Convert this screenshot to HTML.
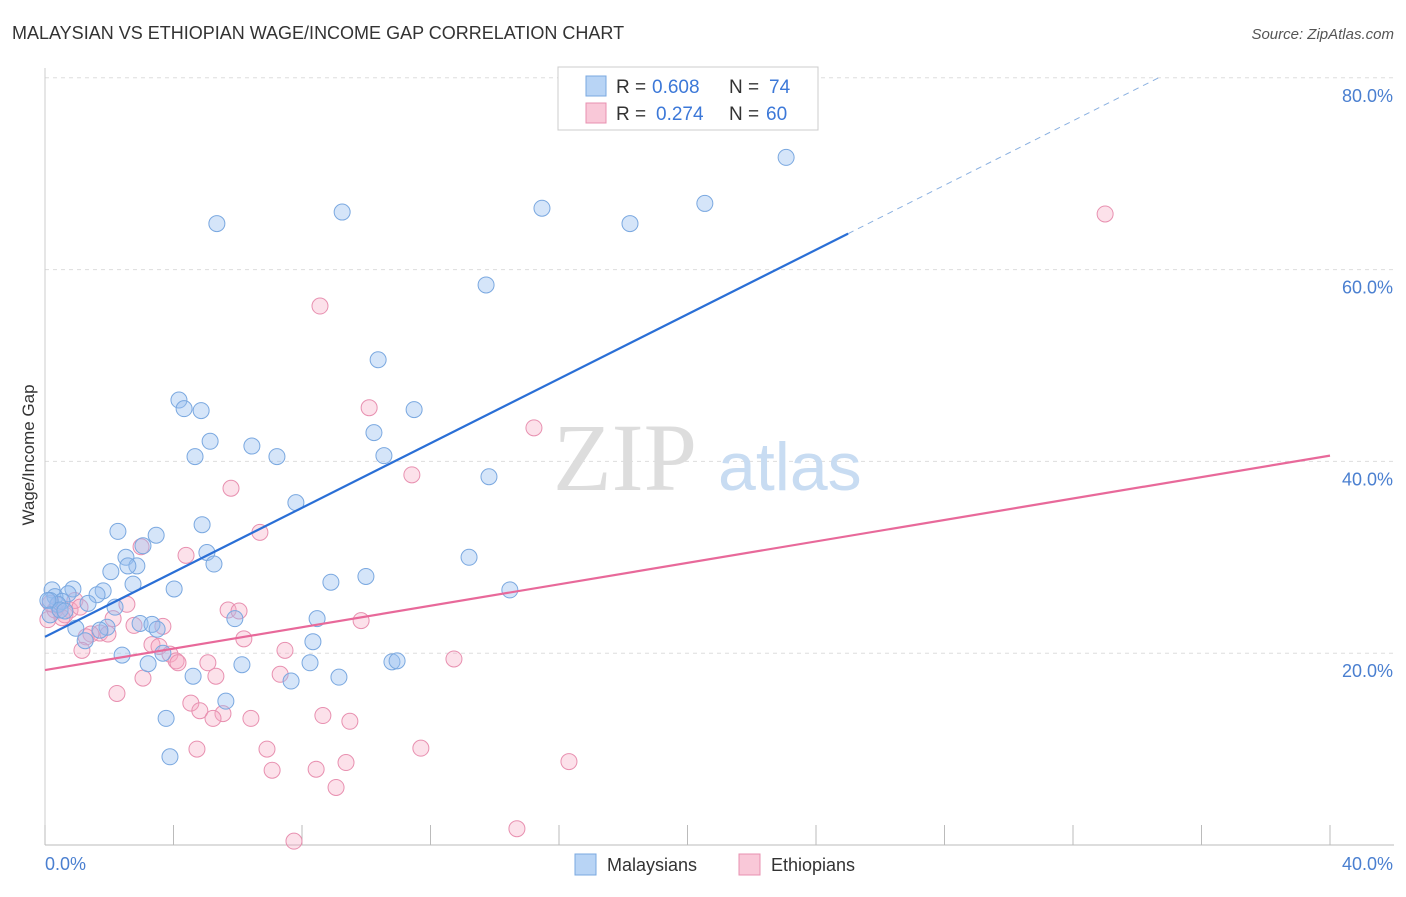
<!DOCTYPE html>
<html><head><meta charset="utf-8">
<style>
body{margin:0;background:#fff;font-family:"Liberation Sans",sans-serif;}
svg text{font-family:"Liberation Sans",sans-serif;}
</style></head>
<body>
<svg width="1406" height="892" xmlns="http://www.w3.org/2000/svg">
<text x="12" y="39" font-size="18" fill="#333">MALAYSIAN VS ETHIOPIAN WAGE/INCOME GAP CORRELATION CHART</text>
<text x="1394" y="39" font-size="15" fill="#555" text-anchor="end" font-style="italic">Source: ZipAtlas.com</text>
<g id="grid"></g>
<text x="553" y="490" font-size="96" fill="#ddd" style="font-family:'Liberation Serif',serif">ZIP</text>
<text x="718" y="490" font-size="68" fill="#c8dcf2">atlas</text>
<g id="pts"></g>
<g id="lines"></g>
<text x="34" y="455" font-size="17" fill="#333" text-anchor="middle" transform="rotate(-90 34 455)">Wage/Income Gap</text>
<g>
<rect x="558" y="67" width="260" height="63" fill="#fff" stroke="#ccc"/>
<rect x="586" y="76" width="20" height="20" fill="#b8d4f5" stroke="#7aa8e0"/>
<rect x="586" y="103" width="20" height="20" fill="#f9c8d8" stroke="#e890b0"/>
<text x="616" y="93" font-size="19" fill="#333">R =</text>
<text x="652" y="93" font-size="19" fill="#3c78d8">0.608</text>
<text x="729" y="93" font-size="19" fill="#333">N =</text>
<text x="769" y="93" font-size="19" fill="#3c78d8">74</text>
<text x="616" y="120" font-size="19" fill="#333">R =</text>
<text x="656" y="120" font-size="19" fill="#3c78d8">0.274</text>
<text x="729" y="120" font-size="19" fill="#333">N =</text>
<text x="766" y="120" font-size="19" fill="#3c78d8">60</text>
</g>
<g>
<rect x="575" y="854" width="21" height="21" fill="#b8d4f5" stroke="#7aa8e0"/>
<text x="607" y="871" font-size="18" fill="#333">Malaysians</text>
<rect x="739" y="854" width="21" height="21" fill="#f9c8d8" stroke="#e890b0"/>
<text x="771" y="871" font-size="18" fill="#333">Ethiopians</text>
</g>
</svg>
<script>
const malX=[23.07,20.54,15.47,18.21,9.25,5.35,13.73,10.37,11.49,4.17,4.33,4.86,10.24,5.14,6.44,4.67,7.22,10.55,13.82,7.81,4.89,2.27,3.46,3.05,5.04,5.26,13.2,2.52,2.86,2.58,2.05,9.99,8.90,2.74,4.02,14.47,0.22,0.87,1.81,0.72,1.62,0.31,0.53,1.34,2.18,0.40,0.16,5.91,8.47,2.96,3.33,3.49,1.93,0.96,1.71,8.34,1.25,3.67,2.40,3.21,6.13,8.25,10.80,10.96,4.61,7.66,9.15,5.63,3.77,3.89,0.09,0.16,0.47,0.62];
const malY=[71.7,66.9,66.4,64.8,66.0,64.8,58.4,50.6,45.4,46.4,45.5,45.3,43.0,42.1,41.6,40.5,40.5,40.6,38.4,35.7,33.4,32.7,32.3,31.2,30.5,29.3,30.0,30.0,29.1,29.1,28.5,28.0,27.4,27.2,26.7,26.6,26.6,26.7,26.5,26.2,26.1,25.9,25.4,25.2,24.8,25.1,25.5,23.6,23.6,23.1,23.0,22.5,22.7,22.6,22.4,21.2,21.3,20.0,19.8,18.9,18.8,19.0,19.1,19.2,17.6,17.1,17.5,15.0,13.2,9.2,25.5,24.0,24.5,24.4];
const ethX=[33.0,8.56,10.09,15.22,11.42,5.79,6.69,2.99,4.39,2.55,5.70,6.04,2.12,9.84,3.67,2.77,1.71,1.43,1.96,1.28,1.15,3.33,3.55,3.89,6.19,4.08,4.14,5.07,7.47,12.73,5.32,7.32,3.05,2.24,4.54,4.82,5.54,5.23,6.41,8.65,9.49,4.73,6.91,11.70,9.37,16.31,7.07,8.44,9.06,14.69,7.75,0.09,0.31,0.62,0.78,0.40,0.93,0.16,0.53,1.09];
const ethY=[65.8,56.2,45.6,43.5,38.6,37.2,32.6,31.1,30.2,25.1,24.5,24.4,23.6,23.4,22.8,22.9,22.1,22.0,22.0,21.7,20.3,20.9,20.7,19.9,21.5,19.2,19.0,19.0,20.3,19.4,17.6,17.8,17.4,15.8,14.8,14.0,13.7,13.2,13.2,13.5,12.9,10.0,10.0,10.1,8.6,8.7,7.8,7.9,6.0,1.7,0.4,23.5,24.5,24.0,24.5,25.0,25.5,25.2,23.7,24.8];
const yTicks=[20,40,60,80];
const xTicks=[0,4,8,12,16,20,24,28,32,36,40];
const X0=45,X1=1330,Y0=845,YS=9.59;
const sx=v=>X0+v*(X1-X0)/40, sy=v=>Y0-v*YS;
const NS="http://www.w3.org/2000/svg";
function mk(t,a,p){const e=document.createElementNS(NS,t);for(const k in a)e.setAttribute(k,a[k]);p.appendChild(e);return e;}
const g=document.getElementById('grid');
yTicks.forEach(v=>{const l=mk('line',{x1:X0,x2:1394,y1:sy(v),y2:sy(v),stroke:'#ddd','stroke-dasharray':'4,4'},g);


const t=mk('text',{x:1393,y:sy(v)+24,'font-size':18,fill:'#4a7fd0','text-anchor':'end'},g);t.textContent=v.toFixed(1)+'%';

});
const ax=mk('line',{x1:X0,x2:1394,y1:Y0,y2:Y0,stroke:'#bbb'},g);


const ay=mk('line',{x1:X0,x2:X0,y1:68,y2:Y0,stroke:'#ccc'},g);


xTicks.forEach(v=>{const l=mk('line',{x1:sx(v),x2:sx(v),y1:825,y2:Y0,stroke:'#bbb'},g);

});
[[0,'start',45],[40,'end',1393]].forEach(([v,a,x])=>{const t=mk('text',{x:x,y:870,'font-size':18,fill:'#4a7fd0','text-anchor':a},g);t.textContent=v.toFixed(1)+'%';

});
const P=document.getElementById('pts');
ethX.forEach((x,i)=>{const c=mk('circle',{cx:sx(x),cy:sy(ethY[i]),r:8,fill:'rgba(245,170,195,0.35)',stroke:'#e890b0','stroke-width':1},P);

});
malX.forEach((x,i)=>{const c=mk('circle',{cx:sx(x),cy:sy(malY[i]),r:8,fill:'rgba(150,190,240,0.4)',stroke:'#7aa8e0','stroke-width':1},P);

});
const L=document.getElementById('lines');
function fit(xs,ys){const n=xs.length;let mx=0,my=0;xs.forEach((x,i)=>{mx+=x;my+=ys[i]});mx/=n;my/=n;let a=0,b=0;xs.forEach((x,i)=>{a+=(x-mx)*(ys[i]-my);b+=(x-mx)*(x-mx)});const s=a/b;return [s,my-s*mx];}
let [s1,b1]=fit(malX,malY);
const l1=mk('line',{x1:sx(0),y1:sy(b1),x2:sx(25),y2:sy(b1+s1*25),stroke:'#2a6fd6','stroke-width':2.2},L);


const xe=Math.min(40,(80-b1)/s1);
const l1d=mk('line',{x1:sx(25),y1:sy(b1+s1*25),x2:sx(xe),y2:sy(b1+s1*xe),stroke:'#8ab0e0','stroke-width':1,'stroke-dasharray':'6,5'},L);


let [s2,b2]=fit(ethX,ethY);
const l2=mk('line',{x1:sx(0),y1:sy(b2),x2:sx(40),y2:sy(b2+s2*40),stroke:'#e8699a','stroke-width':2.2},L);


</script>
</body></html>
